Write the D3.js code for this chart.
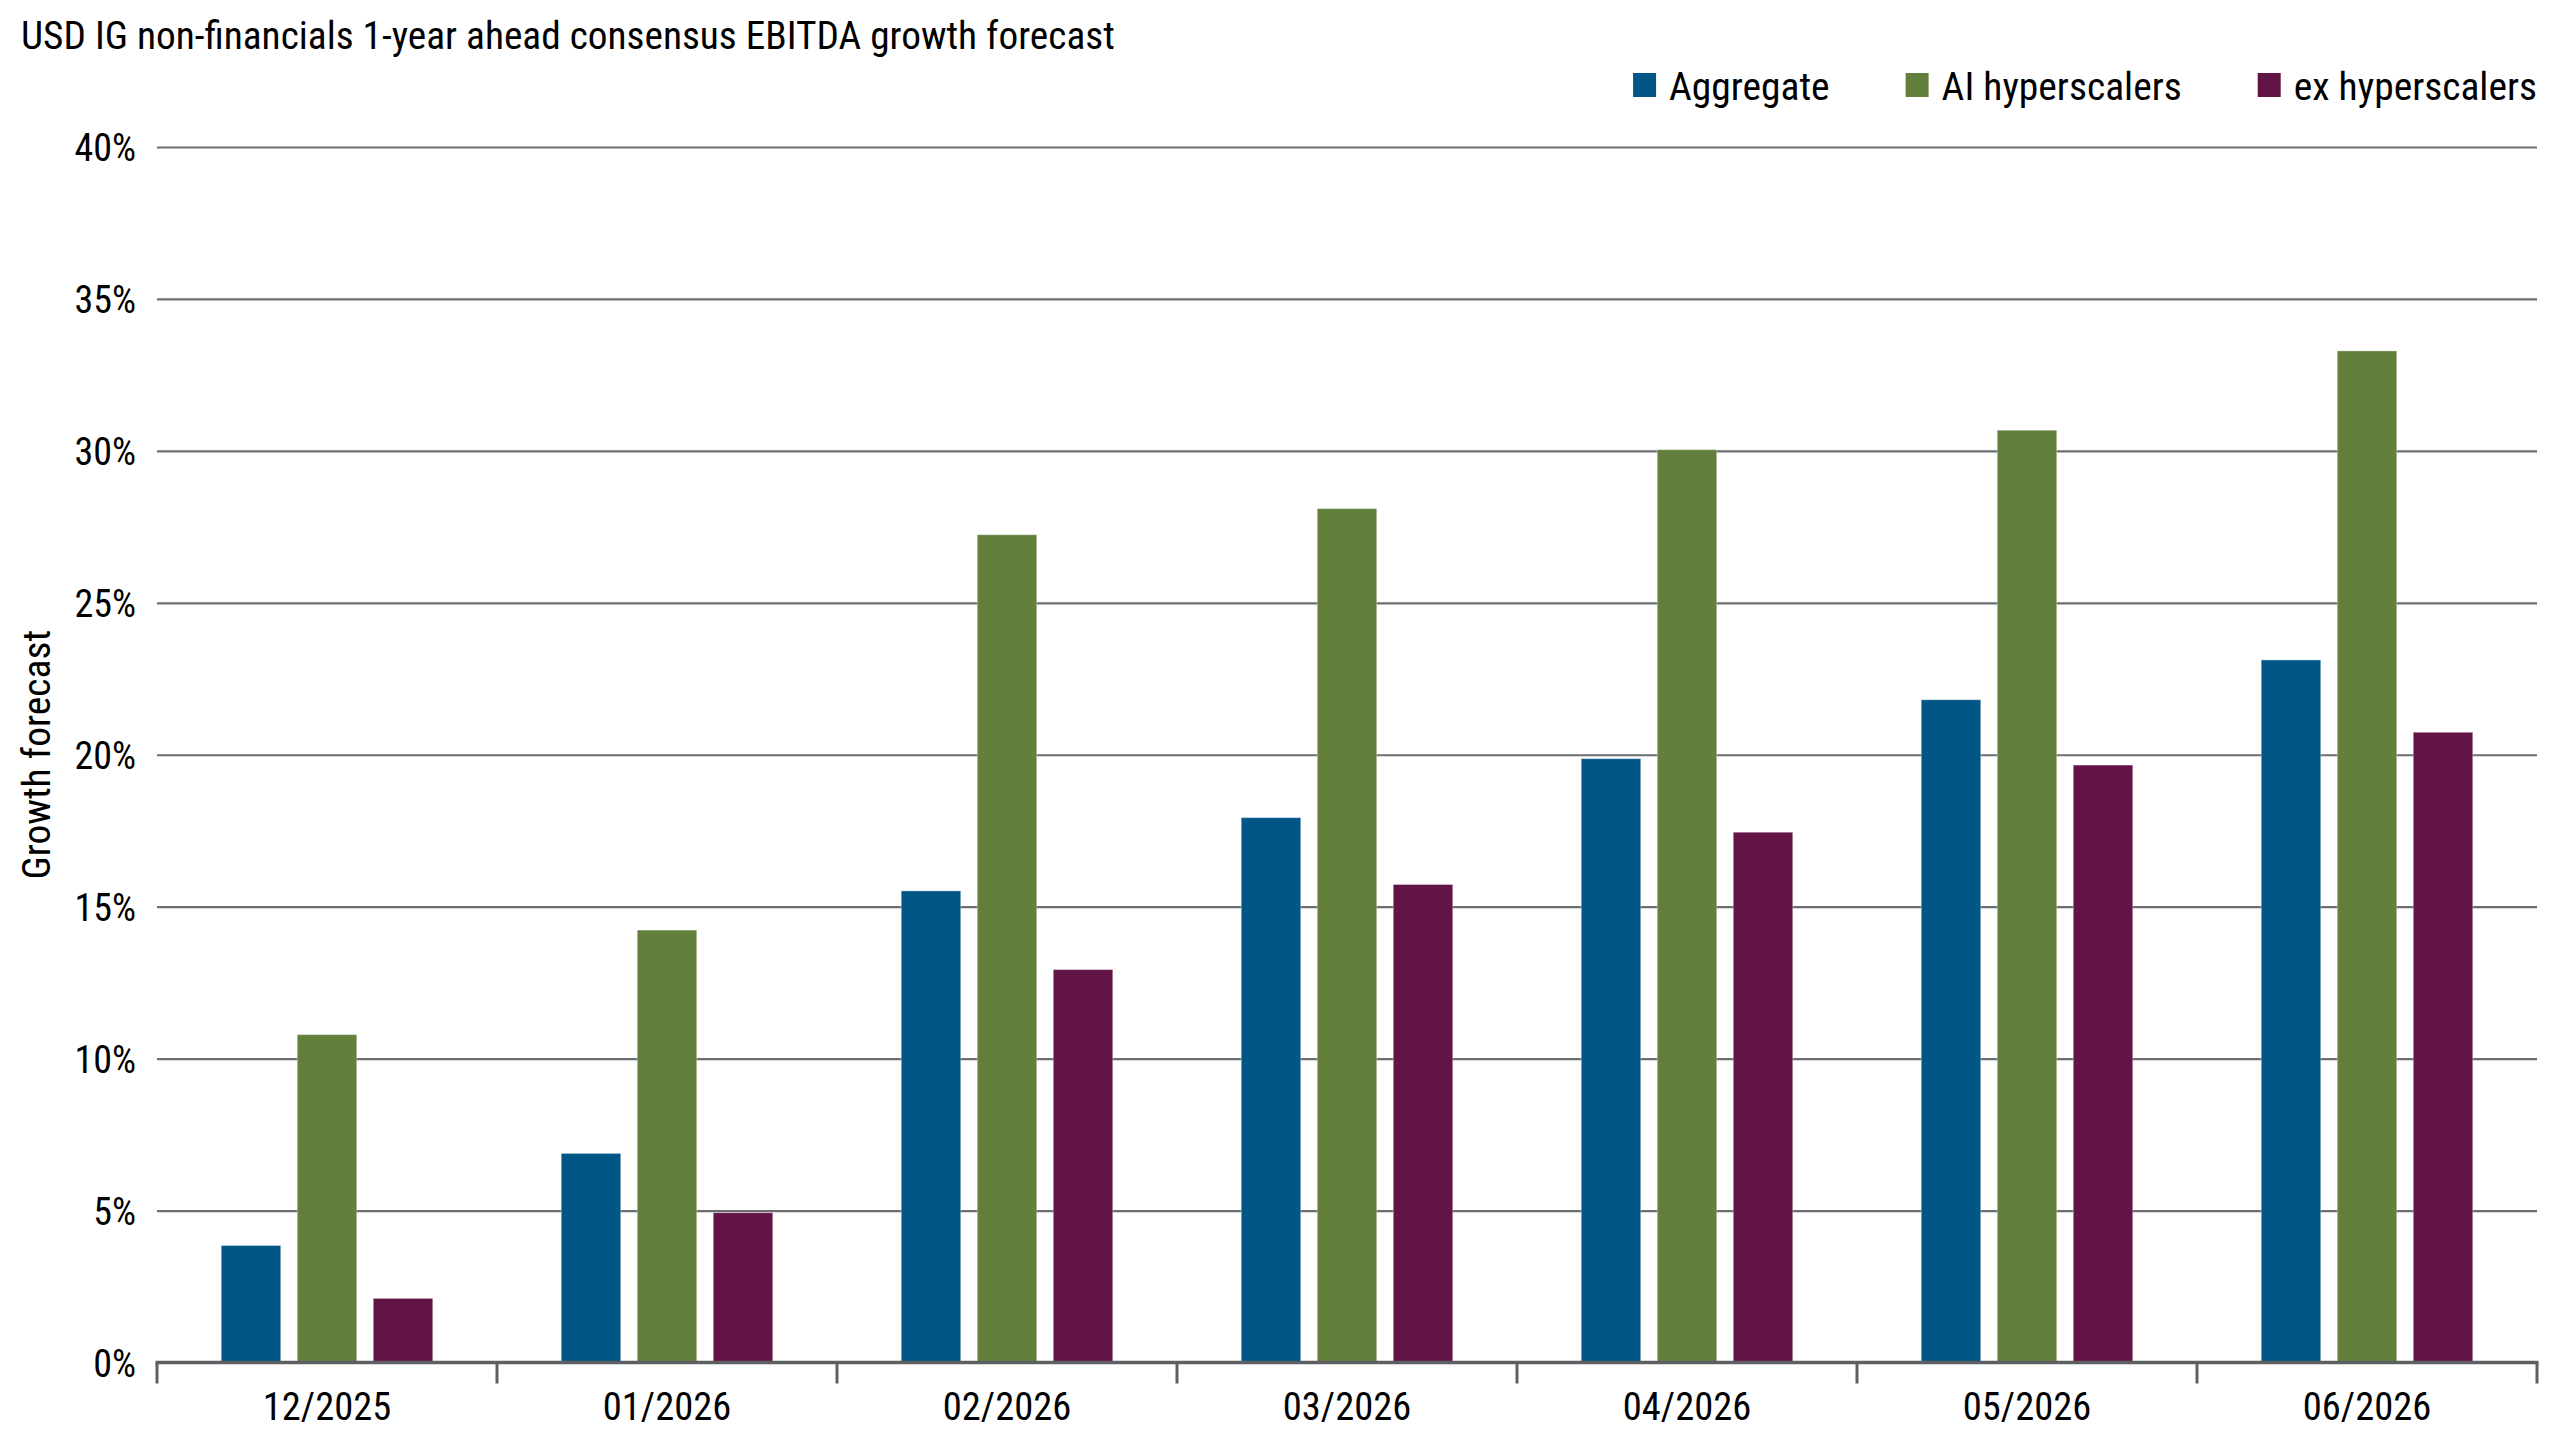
<!DOCTYPE html>
<html>
<head>
<meta charset="utf-8">
<script src="https://cdn.jsdelivr.net/npm/d3@7"></script>
<style>
  html, body { margin: 0; padding: 0; background: #ffffff; }
  svg { display: block; }
  text { font-family: "Liberation Sans Narrow", "Arial Narrow", "Roboto Condensed", sans-serif; fill: #000; }
</style>
</head>
<body>
<svg id="chart" width="2560" height="1440"></svg>
<script>
// ---- Data ----
const categories = ["12/2025", "01/2026", "02/2026", "03/2026", "04/2026", "05/2026", "06/2026"];
const seriesNames = ["Aggregate", "AI hyperscalers", "ex hyperscalers"];
const aggregate = [3.85, 6.88, 15.52, 17.93, 19.87, 21.81, 23.12];
const aiHyperscalers = [10.79, 14.23, 27.24, 28.10, 30.04, 30.68, 33.29];
const exHyperscalers = [2.11, 4.93, 12.93, 15.73, 17.45, 19.66, 20.74];
const yTickValues = [0, 5, 10, 15, 20, 25, 30, 35, 40];
const titleText = "USD IG non-financials 1-year ahead consensus EBITDA growth forecast";
const yAxisTitle = "Growth forecast";

// ---- Styles ----
const colors = { "Aggregate": "#005687", "AI hyperscalers": "#62803c", "ex hyperscalers": "#621445" };
const seriesValues = { "Aggregate": aggregate, "AI hyperscalers": aiHyperscalers, "ex hyperscalers": exHyperscalers };

const svg = d3.select("#chart");
const plot = { left: 157, right: 2537, top: 147, bottom: 1362.5 };

const x0 = d3.scaleBand().domain(categories).range([plot.left, plot.right]).paddingInner(0).paddingOuter(0);
const x1 = d3.scaleBand().domain(seriesNames).range([0, x0.bandwidth()]).paddingInner(0.217).paddingOuter(0.845);
const y = d3.scaleLinear().domain([0, 40]).range([plot.bottom, plot.top]);

// Gridlines
const grid = svg.append("g")
  .attr("transform", `translate(${plot.left},0)`)
  .call(d3.axisLeft(y).tickValues(yTickValues.filter(d => d > 0)).tickSize(-(plot.right - plot.left)).tickFormat(""));
grid.select(".domain").remove();
grid.selectAll(".tick line").attr("stroke", "#6d6e71").attr("stroke-width", 2.2);

// Y tick labels
const yLab = svg.append("g")
  .attr("transform", `translate(${plot.left},0)`)
  .call(d3.axisLeft(y).tickValues(yTickValues).tickSize(0).tickPadding(21).tickFormat(d => d + "%"));
yLab.select(".domain").remove();
yLab.selectAll(".tick text").style("font-size", "38px").attr("fill", "#000").attr("dy", "0.36em");

// Bars
const rows = categories.map((c, i) => ({ cat: c, vals: seriesNames.map(s => ({ s, v: seriesValues[s][i] })) }));
svg.append("g").selectAll("g").data(rows).join("g")
  .attr("transform", d => `translate(${x0(d.cat)},0)`)
  .selectAll("rect").data(d => d.vals).join("rect")
  .attr("x", d => x1(d.s))
  .attr("width", x1.bandwidth())
  .attr("y", d => y(d.v))
  .attr("height", d => y(0) - y(d.v))
  .attr("fill", d => colors[d.s])
  .attr("stroke", "#ffffff")
  .attr("stroke-opacity", 0.35)
  .attr("stroke-width", 1);

// X axis
const xAxisG = svg.append("g").attr("transform", `translate(0,${plot.bottom})`);
xAxisG.append("line")
  .attr("x1", plot.left - 1.5).attr("x2", plot.right + 1.5)
  .attr("y1", 0).attr("y2", 0)
  .attr("stroke", "#5d5f62").attr("stroke-width", 3.5);
const boundaries = categories.map(c => x0(c)).concat([x0(categories[categories.length - 1]) + x0.bandwidth()]);
xAxisG.selectAll("line.tk").data(boundaries).join("line").attr("class", "tk")
  .attr("x1", d => d).attr("x2", d => d)
  .attr("y1", 0).attr("y2", 21)
  .attr("stroke", "#5d5f62").attr("stroke-width", 3);
xAxisG.selectAll("text").data(categories).join("text")
  .attr("x", d => x0(d) + x0.bandwidth() / 2)
  .attr("y", 57)
  .attr("text-anchor", "middle")
  .style("font-size", "38.5px")
  .text(d => d);

// Title
svg.append("text").attr("x", 21).attr("y", 49).style("font-size", "39.3px").text(titleText);

// Y axis title
svg.append("text")
  .attr("transform", `translate(50,${(plot.top + plot.bottom) / 2}) rotate(-90)`)
  .attr("text-anchor", "middle")
  .style("font-size", "39.5px")
  .text(yAxisTitle);

// Legend (right aligned to plot right)
const legend = svg.append("g");
const sw = 23, textGap = 13, itemGap = 76;
const items = legend.selectAll("g").data(seriesNames).join("g");
items.append("rect").attr("x", 0).attr("y", 73).attr("width", sw).attr("height", 24).attr("fill", d => colors[d]);
items.append("text").attr("x", sw + textGap).attr("y", 100).style("font-size", "39.5px").text(d => d);
let widths = [];
items.each(function() { widths.push(this.getBBox().width); });
const total = d3.sum(widths) + itemGap * (widths.length - 1);
let cx = plot.right - total;
items.attr("transform", (d, i) => { const t = `translate(${cx},0)`; cx += widths[i] + itemGap; return t; });
</script>
</body>
</html>
